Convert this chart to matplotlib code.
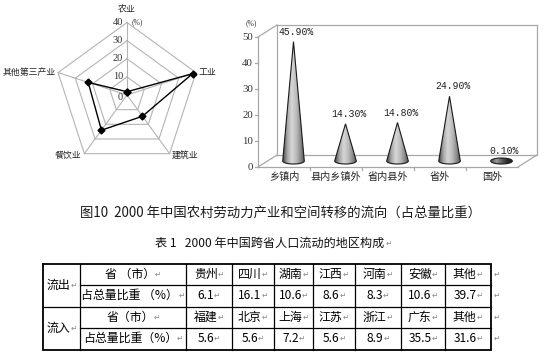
import numpy as np
import matplotlib
matplotlib.use('Agg')
import matplotlib.pyplot as plt
from matplotlib.patches import Polygon
from matplotlib.colors import LinearSegmentedColormap

plt.rcParams['font.family'] = ['Noto Sans CJK SC', 'DejaVu Sans']

# ---------------- data ----------------
radar_labels = ['农业', '工业', '建筑业', '餐饮业', '其他第三产业']
radar_values = [1.8, 38.0, 14.5, 24.0, 22.5]
radar_ticks = [0, 10, 20, 30, 40]

cone_labels = ['乡镇内', '县内乡镇外', '省内县外', '省外', '国外']
cone_values = [45.9, 14.3, 14.8, 24.9, 0.1]
cone_ticks = [0, 10, 20, 30, 40, 50]

out_provinces = ['贵州', '四川', '湖南', '江西', '河南', '安徽', '其他']
out_shares = [6.1, 16.1, 10.6, 8.6, 8.3, 10.6, 39.7]
in_provinces = ['福建', '北京', '上海', '江苏', '浙江', '广东', '其他']
in_shares = [5.6, 5.6, 7.2, 5.6, 8.9, 35.5, 31.6]

caption = '图10  2000 年中国农村劳动力产业和空间转移的流向（占总量比重）'
table_title = '表 1   2000 年中国跨省人口流动的地区构成'

W, H = 546, 360
fig = plt.figure(figsize=(W / 100, H / 100), dpi=100)
fig.patch.set_facecolor('white')


def px_axes(x0, y0, w, h):
    ax = fig.add_axes([x0 / W, 1 - (y0 + h) / H, w / W, h / H])
    ax.set_axis_off()
    return ax


# ---------------- radar chart ----------------
k = 72.5 / 40.0  # px per unit
axr = px_axes(0, 0, 254, 190)
axr.set_xlim(-127 / k, 127 / k)
axr.set_ylim(-95 / k, 95 / k)
angles = np.deg2rad(90 - 72 * np.arange(len(radar_labels)))
grid_c = '#b4b4b4'
for r in radar_ticks[1:]:
    xs = np.append(r * np.cos(angles), r * np.cos(angles[0]))
    ys = np.append(r * np.sin(angles), r * np.sin(angles[0]))
    axr.plot(xs, ys, color=grid_c, lw=0.8)
rmax = radar_ticks[-1]
for a in angles:
    axr.plot([0, rmax * np.cos(a)], [0, rmax * np.sin(a)], color=grid_c, lw=0.8)
vals = np.array(radar_values)
xs = np.append(vals * np.cos(angles), vals[0] * np.cos(angles[0]))
ys = np.append(vals * np.sin(angles), vals[0] * np.sin(angles[0]))
axr.plot(xs, ys, color='black', lw=1.0, marker='D', ms=3.5, mfc='black', mec='black')
for t in radar_ticks:
    axr.annotate(str(t), xy=(0, t), xytext=(-4, -2 if t == 0 else 0), textcoords='offset pixels',
                 ha='right', va='center', fontsize=7.5, family='Liberation Serif', color='#333333')
axr.annotate('(%)', xy=(0, rmax), xytext=(5, 0), textcoords='offset pixels',
             ha='left', va='center', fontsize=5.5, family='Liberation Serif', color='#333333')
lab_cfg = [((0, 8), 'center', 'bottom'), ((3, 0), 'left', 'center'), ((2, -1.5), 'left', 'center'),
           ((-3, -1.5), 'right', 'center'), ((-2, 0), 'right', 'center')]
for lab, a, (off, ha, va) in zip(radar_labels, angles, lab_cfg):
    axr.annotate(lab, xy=(rmax * np.cos(a), rmax * np.sin(a)), xytext=off, textcoords='offset pixels',
                 ha=ha, va=va, fontsize=6.4, color='#222222')

# ---------------- cone chart ----------------
axc = px_axes(258, 37, 260, 130)
axc.set_xlim(0, len(cone_values))
axc.set_ylim(0, cone_ticks[-1])
ppx = 260 / len(cone_values)   # px per category
ppy = 130 / cone_ticks[-1]     # px per unit
ddx, ddy = 19 / ppx, 12 / ppy
n = len(cone_values)
ymax = cone_ticks[-1]
fc = '#a8a8a8'
frame = [((0, 0), (0, ymax)), ((0, ymax), (ddx, ymax + ddy)), ((ddx, ddy), (ddx, ymax + ddy)),
         ((ddx, ymax + ddy), (n + ddx, ymax + ddy)), ((n + ddx, ddy), (n + ddx, ymax + ddy)),
         ((ddx, ddy), (n + ddx, ddy)), ((0, 0), (n, 0)), ((n, 0), (n + ddx, ddy)), ((0, 0), (ddx, ddy))]
for (x0, y0), (x1, y1) in frame:
    axc.plot([x0, x1], [y0, y1], color=fc, lw=0.9, clip_on=False)
for t in cone_ticks:
    axc.plot([-3 / ppx, 0], [t, t], color=fc, lw=0.9, clip_on=False)
    axc.annotate(str(t), xy=(0, t), xytext=(-5, 0), textcoords='offset pixels', ha='right', va='center',
                 fontsize=7.8, family='Liberation Serif', color='#333333')
for i in range(1, n):
    axc.plot([i, i], [0, -3 / ppy], color=fc, lw=0.9, clip_on=False)
axc.annotate('(%)', xy=(0, ymax), xytext=(-7, 14), textcoords='offset pixels', ha='center', va='center',
             fontsize=5.5, family='Liberation Serif', color='#333333')

cmap = LinearSegmentedColormap.from_list('cone', ['#4a4a4a', '#a8a8a8', '#d6d6d6', '#bdbdbd', '#8c8c8c', '#4e4e4e'])
cmap_flat = LinearSegmentedColormap.from_list('flat', ['#555555', '#9a9a9a', '#5a5a5a', '#2a2a2a', '#1e1e1e'])
grad = np.linspace(0, 1, 200).reshape(1, -1)
a_w, b_h = 10.8 / ppx, 3.0 / ppy


def hull(points):
    pts = sorted(set(points))
    def cross(o, a, b):
        return (a[0] - o[0]) * (b[1] - o[1]) - (a[1] - o[1]) * (b[0] - o[0])
    lower, upper = [], []
    for p in pts:
        while len(lower) >= 2 and cross(lower[-2], lower[-1], p) <= 0:
            lower.pop()
        lower.append(p)
    for p in reversed(pts):
        while len(upper) >= 2 and cross(upper[-2], upper[-1], p) <= 0:
            upper.pop()
        upper.append(p)
    return lower[:-1] + upper[:-1]


for i, (lab, v) in enumerate(zip(cone_labels, cone_values)):
    xc = i + 0.5 + ddx / 2
    yc = ddy / 2
    th = np.linspace(0, 2 * np.pi, 120, endpoint=False)
    pts = [(xc * ppx + 10.8 * np.cos(t), yc * ppy + 3.0 * np.sin(t)) for t in th]
    pts.append((xc * ppx, (yc + v) * ppy))
    hp = np.array(hull([(round(p[0], 4), round(p[1], 4)) for p in pts]))
    hp[:, 0] /= ppx
    hp[:, 1] /= ppy
    flat = v < b_h
    poly = Polygon(hp, closed=True, facecolor='none', edgecolor='#1a1a1a', lw=0.8, zorder=4, clip_on=False)
    axc.add_patch(poly)
    im = axc.imshow(grad, cmap=cmap_flat if flat else cmap, aspect='auto', zorder=3,
                    extent=[xc - a_w, xc + a_w, yc - b_h, max(yc + v, yc + b_h)])
    clip = Polygon(hp, closed=True, transform=axc.transData)
    im.set_clip_path(clip)
    axc.annotate(f'{v:.2f}%', xy=(xc, max(yc + v, yc)), xytext=(3, 10), textcoords='offset pixels',
                 ha='center', va='center', fontsize=7.0, family='Liberation Mono', color='#222222')
    axc.annotate(lab, xy=(i + 0.5, 0), xytext=(0, -10), textcoords='offset pixels', ha='center',
                 va='center', fontsize=7.3, color='#222222')
axc.set_xlim(0, n)
axc.set_ylim(0, ymax)

# ---------------- captions ----------------
fig.text(281 / W, 1 - 213 / H, caption, ha='center', va='center', fontsize=9.6, color='#1a1a1a')

renderer = fig.canvas.get_renderer()
tt = fig.text(270 / W, 1 - 243 / H, table_title, ha='center', va='center', fontsize=8.7, color='#111111')
tw = tt.get_window_extent(renderer).width
fig.text((270 + tw / 2 + 1) / W, 1 - 243 / H, '↵', ha='left', va='center', fontsize=5.5,
         family='DejaVu Sans', color='#8a8a8a')

# ---------------- table ----------------
axt = px_axes(0, 0, W, H)
axt.set_xlim(0, W)
axt.set_ylim(H, 0)
col_edges = [43, 80, 186, 232, 274, 313, 355, 401, 445, 491]
row_edges = [264, 284.5, 306.5, 328, 349.5]
x0, x1 = col_edges[0], col_edges[-1]
y0, y1 = row_edges[0], row_edges[-1]
axt.plot([x0, x1, x1, x0, x0], [y0, y0, y1, y1, y0], color='black', lw=1.3, solid_joinstyle='miter')
for yy in row_edges[1:-1]:
    axt.plot([col_edges[1] if yy != row_edges[2] else x0, x1], [yy, yy], color='black', lw=0.9)
for xx in col_edges[1:-1]:
    axt.plot([xx, xx], [y0, y1], color='black', lw=0.9)


def cell(cx, cy, s, fs=8.6, arrow=True):
    t = axt.text(cx, cy, s, ha='center', va='center', fontsize=fs, color='black')
    if not arrow:
        return
    ar = axt.text(cx, cy, '↵', ha='left', va='center', fontsize=5.5, family='DejaVu Sans', color='#8a8a8a')
    w1 = t.get_window_extent(renderer).width
    w2 = ar.get_window_extent(renderer).width
    t.set_x(cx - w2 / 2)
    ar.set_x(cx - w2 / 2 + w1 / 2)


def mid(a, b):
    return (a + b) / 2


cell(mid(col_edges[0], col_edges[1]), mid(row_edges[0], row_edges[2]), '流出')
cell(mid(col_edges[0], col_edges[1]), mid(row_edges[2], row_edges[4]), '流入')
cell(mid(col_edges[1], col_edges[2]), mid(row_edges[0], row_edges[1]), '省 （市）')
cell(mid(col_edges[1], col_edges[2]), mid(row_edges[1], row_edges[2]), '占总量比重 （%）')
cell(mid(col_edges[1], col_edges[2]), mid(row_edges[2], row_edges[3]), '省（市）')
cell(mid(col_edges[1], col_edges[2]), mid(row_edges[3], row_edges[4]), '占总量比重（%）')
for j in range(len(out_provinces)):
    cx = mid(col_edges[2 + j], col_edges[3 + j])
    cell(cx, mid(row_edges[0], row_edges[1]), out_provinces[j])
    cell(cx, mid(row_edges[1], row_edges[2]), f'{out_shares[j]:.1f}')
    cell(cx, mid(row_edges[2], row_edges[3]), in_provinces[j])
    cell(cx, mid(row_edges[3], row_edges[4]), f'{in_shares[j]:.1f}')
for r in range(4):
    axt.text(col_edges[-1] + 3, mid(row_edges[r], row_edges[r + 1]), '↵', ha='left', va='center',
             fontsize=5.5, family='DejaVu Sans', color='#8a8a8a')

fig.savefig('out.png', dpi=100, facecolor='white')
